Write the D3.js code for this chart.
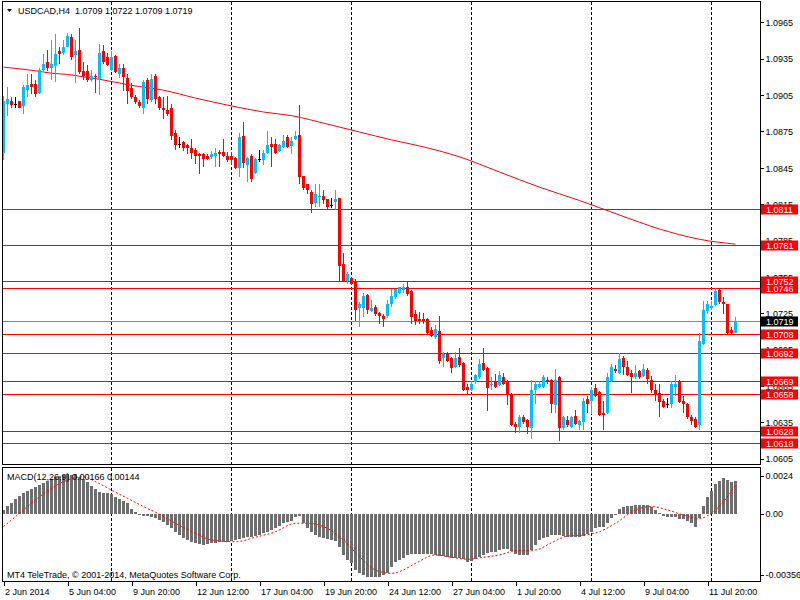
<!DOCTYPE html>
<html>
<head>
<meta charset="utf-8">
<script src="https://cdn.jsdelivr.net/npm/d3@7"></script>
<style>
  body { margin: 0; background: #fff; }
  svg { display: block; font-family: "Liberation Sans", Arial, sans-serif; font-size: 9px; }
</style>
</head>
<body>
<svg id="chart" width="800" height="600"></svg>
<script>
// USDCAD H4 bars (oldest first)
const opens = [
  1.0857,1.0898,1.0900,1.0898,1.0900,1.0896,1.0909,1.0914,1.0914,1.0907,
  1.0926,1.0932,1.0927,1.0929,1.0941,1.0940,1.0945,1.0953,1.0938,1.0942,
  1.0925,1.0925,1.0917,1.0921,1.0918,1.0941,1.0936,1.0926,1.0937,1.0922,
  1.0927,1.0919,1.0911,1.0903,1.0899,1.0894,1.0917,1.0901,1.0921,1.0903,
  1.0894,1.0893,1.0894,1.0874,1.0865,1.0866,1.0864,1.0861,1.0860,1.0856,
  1.0856,1.0855,1.0854,1.0855,1.0858,1.0858,1.0855,1.0855,1.0853,1.0845,
  1.0871,1.0847,1.0855,1.0841,1.0852,1.0851,1.0857,1.0865,1.0865,1.0859,
  1.0862,1.0870,1.0863,1.0869,1.0872,1.0838,1.0832,1.0825,1.0816,1.0821,
  1.0822,1.0819,1.0814,1.0817,1.0820,1.0766,1.0752,1.0754,1.0752,1.0729,
  1.0729,1.0740,1.0727,1.0730,1.0725,1.0723,1.0723,1.0733,1.0738,1.0742,
  1.0744,1.0747,1.0743,1.0724,1.0720,1.0720,1.0720,1.0711,1.0705,1.0710,
  1.0688,1.0692,1.0688,1.0681,1.0689,1.0684,1.0664,1.0662,1.0668,1.0672,
  1.0684,1.0680,1.0666,1.0669,1.0666,1.0672,1.0669,1.0658,1.0634,1.0631,
  1.0639,1.0637,1.0630,1.0662,1.0664,1.0664,1.0670,1.0670,1.0649,1.0672,
  1.0630,1.0637,1.0631,1.0640,1.0633,1.0635,1.0654,1.0653,1.0663,1.0660,
  1.0643,1.0643,1.0669,1.0679,1.0676,1.0688,1.0681,1.0676,1.0672,1.0677,
  1.0673,1.0678,1.0670,1.0662,1.0659,1.0653,1.0650,1.0650,1.0664,1.0669,
  1.0653,1.0650,1.0639,1.0638,1.0633,1.0700,1.0727,1.0729,1.0732,1.0744,
  1.0734,1.0733,1.0711,1.0709
];
const highs = [
  1.0904,1.0912,1.0903,1.0903,1.0900,1.0913,1.0922,1.0922,1.0917,1.0927,
  1.0939,1.0942,1.0950,1.0955,1.0945,1.0950,1.0956,1.0955,1.0950,1.0960,
  1.0932,1.0930,1.0926,1.0922,1.0947,1.0946,1.0940,1.0941,1.0938,1.0931,
  1.0931,1.0922,1.0915,1.0905,1.0901,1.0917,1.0919,1.0922,1.0922,1.0904,
  1.0903,1.0904,1.0898,1.0876,1.0870,1.0867,1.0865,1.0869,1.0861,1.0857,
  1.0857,1.0856,1.0859,1.0861,1.0860,1.0869,1.0858,1.0858,1.0854,1.0874,
  1.0883,1.0854,1.0856,1.0853,1.0860,1.0860,1.0875,1.0870,1.0869,1.0865,
  1.0872,1.0872,1.0870,1.0875,1.0897,1.0838,1.0832,1.0827,1.0832,1.0832,
  1.0827,1.0819,1.0820,1.0827,1.0820,1.0775,1.0759,1.0755,1.0753,1.0734,
  1.0742,1.0741,1.0736,1.0732,1.0726,1.0724,1.0736,1.0745,1.0745,1.0747,
  1.0749,1.0752,1.0744,1.0728,1.0726,1.0725,1.0721,1.0714,1.0715,1.0723,
  1.0693,1.0693,1.0689,1.0693,1.0696,1.0685,1.0667,1.0669,1.0675,1.0687,
  1.0696,1.0681,1.0672,1.0675,1.0677,1.0676,1.0670,1.0659,1.0635,1.0641,
  1.0641,1.0638,1.0670,1.0669,1.0669,1.0674,1.0672,1.0671,1.0679,1.0673,
  1.0640,1.0640,1.0640,1.0645,1.0637,1.0655,1.0657,1.0664,1.0667,1.0661,
  1.0653,1.0676,1.0683,1.0682,1.0692,1.0690,1.0686,1.0678,1.0682,1.0678,
  1.0683,1.0680,1.0673,1.0667,1.0667,1.0654,1.0655,1.0669,1.0674,1.0670,
  1.0657,1.0651,1.0641,1.0639,1.0709,1.0735,1.0735,1.0735,1.0746,1.0745,
  1.0738,1.0733,1.0714,1.0722
];
const lows = [
  1.0851,1.0888,1.0894,1.0894,1.0894,1.0889,1.0903,1.0906,1.0903,1.0906,
  1.0924,1.0925,1.0917,1.0916,1.0931,1.0938,1.0945,1.0934,1.0915,1.0922,
  1.0917,1.0916,1.0916,1.0907,1.0905,1.0931,1.0929,1.0925,1.0923,1.0919,
  1.0908,1.0898,1.0902,1.0898,1.0894,1.0889,1.0898,1.0899,1.0898,1.0893,
  1.0885,1.0888,1.0868,1.0860,1.0861,1.0859,1.0856,1.0852,1.0848,1.0840,
  1.0846,1.0851,1.0852,1.0846,1.0846,1.0854,1.0850,1.0847,1.0844,1.0837,
  1.0845,1.0833,1.0833,1.0840,1.0850,1.0847,1.0856,1.0846,1.0856,1.0858,
  1.0861,1.0861,1.0856,1.0868,1.0832,1.0827,1.0823,1.0808,1.0813,1.0813,
  1.0815,1.0811,1.0812,1.0810,1.0752,1.0751,1.0749,1.0748,1.0719,1.0714,
  1.0722,1.0724,1.0726,1.0723,1.0716,1.0714,1.0721,1.0730,1.0737,1.0741,
  1.0742,1.0739,1.0716,1.0715,1.0716,1.0716,1.0708,1.0705,1.0704,1.0683,
  1.0681,1.0685,1.0676,1.0680,1.0681,1.0661,1.0658,1.0661,1.0667,1.0671,
  1.0677,1.0644,1.0662,1.0663,1.0665,1.0666,1.0649,1.0632,1.0626,1.0626,
  1.0634,1.0625,1.0621,1.0650,1.0663,1.0663,1.0667,1.0643,1.0643,1.0620,
  1.0629,1.0631,1.0630,1.0633,1.0629,1.0629,1.0643,1.0642,1.0656,1.0640,
  1.0629,1.0642,1.0668,1.0676,1.0675,1.0674,1.0673,1.0659,1.0671,1.0671,
  1.0672,1.0667,1.0659,1.0653,1.0639,1.0647,1.0647,1.0647,1.0657,1.0651,
  1.0643,1.0638,1.0633,1.0630,1.0629,1.0699,1.0724,1.0728,1.0731,1.0733,
  1.0724,1.0708,1.0708,1.0709
];
const closes = [
  1.0900,1.0902,1.0897,1.0898,1.0894,1.0912,1.0913,1.0912,1.0906,1.0926,
  1.0931,1.0927,1.0931,1.0939,1.0939,1.0945,1.0954,1.0936,1.0941,1.0924,
  1.0921,1.0917,1.0921,1.0920,1.0940,1.0932,1.0930,1.0936,1.0924,1.0927,
  1.0920,1.0908,1.0903,1.0899,1.0896,1.0916,1.0902,1.0918,1.0902,1.0894,
  1.0893,1.0889,1.0871,1.0864,1.0865,1.0861,1.0861,1.0857,1.0855,1.0855,
  1.0852,1.0852,1.0856,1.0857,1.0856,1.0855,1.0851,1.0851,1.0845,1.0870,
  1.0849,1.0853,1.0836,1.0852,1.0852,1.0857,1.0864,1.0862,1.0857,1.0864,
  1.0867,1.0862,1.0867,1.0871,1.0837,1.0828,1.0827,1.0815,1.0823,1.0822,
  1.0818,1.0813,1.0814,1.0819,1.0764,1.0752,1.0757,1.0749,1.0728,1.0733,
  1.0739,1.0728,1.0729,1.0724,1.0723,1.0720,1.0733,1.0739,1.0745,1.0747,
  1.0747,1.0741,1.0722,1.0719,1.0719,1.0719,1.0709,1.0706,1.0712,1.0686,
  1.0691,1.0686,1.0680,1.0688,1.0682,1.0662,1.0662,1.0667,1.0674,1.0683,
  1.0678,1.0663,1.0667,1.0664,1.0674,1.0667,1.0658,1.0633,1.0631,1.0639,
  1.0635,1.0631,1.0662,1.0667,1.0667,1.0672,1.0668,1.0650,1.0670,1.0630,
  1.0639,1.0633,1.0639,1.0634,1.0636,1.0653,1.0650,1.0662,1.0657,1.0641,
  1.0641,1.0672,1.0681,1.0677,1.0687,1.0681,1.0674,1.0672,1.0676,1.0672,
  1.0679,1.0671,1.0662,1.0658,1.0652,1.0648,1.0650,1.0667,1.0667,1.0652,
  1.0650,1.0639,1.0636,1.0631,1.0702,1.0728,1.0733,1.0731,1.0743,1.0734,
  1.0733,1.0709,1.0709,1.0719
];

// moving average, sampled at bar indices
const maIdx = [0, 8, 12, 16, 20, 24, 32, 40, 48, 57, 65, 72, 81, 89, 97, 104, 114, 124, 134, 144, 154, 164, 174, 183];
const maVal = [1.0928, 1.0925, 1.0923, 1.0922, 1.0920, 1.0918, 1.0913, 1.0909, 1.09025, 1.0896, 1.0891, 1.0888,
  1.0881, 1.08745, 1.0868, 1.0863, 1.0854, 1.08415, 1.0829, 1.0818, 1.0806, 1.07945, 1.0786, 1.0782];

// MACD(12,26,9) main histogram, one value per bar
const macdHist = [
  0.00019,0.00041,0.00056,0.00075,0.00092,0.00107,0.00117,0.00126,0.00134,0.00146,
  0.00158,0.00166,0.00175,0.00185,0.00193,0.00197,0.00200,0.00197,0.00200,0.00188,
  0.00175,0.00161,0.00141,0.00124,0.00112,0.00107,0.00104,0.00100,0.00087,0.00075,
  0.00066,0.00053,0.00024,0.00010,-0.00007,-0.00010,-0.00012,-0.00015,-0.00024,-0.00032,
  -0.00042,-0.00058,-0.00075,-0.00092,-0.00109,-0.00126,-0.00134,-0.00143,-0.00151,-0.00154,
  -0.00158,-0.00154,-0.00151,-0.00148,-0.00146,-0.00143,-0.00144,-0.00141,-0.00134,-0.00129,
  -0.00124,-0.00120,-0.00117,-0.00114,-0.00107,-0.00100,-0.00092,-0.00083,-0.00075,-0.00063,
  -0.00049,-0.00042,-0.00036,-0.00019,-0.00012,-0.00049,-0.00075,-0.00092,-0.00109,-0.00120,
  -0.00126,-0.00131,-0.00134,-0.00137,-0.00168,-0.00210,-0.00236,-0.00253,-0.00287,-0.00304,
  -0.00312,-0.00321,-0.00321,-0.00321,-0.00321,-0.00312,-0.00304,-0.00270,-0.00244,-0.00236,
  -0.00227,-0.00210,-0.00207,-0.00207,-0.00207,-0.00207,-0.00207,-0.00207,-0.00210,-0.00214,
  -0.00216,-0.00222,-0.00227,-0.00227,-0.00227,-0.00232,-0.00244,-0.00239,-0.00232,-0.00222,
  -0.00210,-0.00202,-0.00197,-0.00195,-0.00185,-0.00178,-0.00178,-0.00190,-0.00205,-0.00210,
  -0.00210,-0.00210,-0.00185,-0.00160,-0.00134,-0.00126,-0.00120,-0.00110,-0.00109,-0.00109,
  -0.00114,-0.00117,-0.00120,-0.00120,-0.00120,-0.00114,-0.00104,-0.00092,-0.00075,-0.00066,
  -0.00066,-0.00046,-0.00024,-0.00003,0.00022,0.00036,0.00039,0.00041,0.00046,0.00046,
  0.00046,0.00046,0.00036,0.00019,0.00005,-0.00012,-0.00019,-0.00015,-0.00019,-0.00025,
  -0.00029,-0.00037,-0.00049,-0.00066,-0.00024,0.00039,0.00087,0.00117,0.00151,0.00168,
  0.00180,0.00171,0.00163,0.00166
];
// signal line, sampled at bar indices
const sigIdx = [0, 4, 8, 12, 16, 20, 23, 27, 31, 35, 39, 43, 48, 52, 58, 63, 68, 73, 76, 80, 85, 89, 93, 97,
  99, 103, 108, 112, 116, 120, 124, 128, 133, 137, 141, 145, 149, 153, 158, 162, 166, 170, 174, 177, 180, 183];
const sigVal = [-0.00066, 0.00002, 0.00070, 0.00129, 0.00171, 0.00188, 0.00163, 0.00120, 0.00078, 0.00036,
  -0.00003, -0.00049, -0.00100, -0.00134, -0.00143, -0.00120, -0.00092, -0.00049, -0.00049, -0.00066,
  -0.00134, -0.00219, -0.00287, -0.00304, -0.00295, -0.00253, -0.00210, -0.00222, -0.00232, -0.00222,
  -0.00210, -0.00188, -0.00185, -0.00148, -0.00114, -0.00109, -0.00092, -0.00049, 0.00019, 0.00036,
  0.00019, -0.00007, -0.00024, 0.00002, 0.00061, 0.00144];

const levels = [1.0618, 1.0628, 1.0658, 1.0669, 1.0692, 1.0708, 1.0746, 1.0752, 1.0781, 1.0811];
const bid = 1.0719;
const priceTicks = [1.0965, 1.0935, 1.0905, 1.0875, 1.0845, 1.0815, 1.0785, 1.0755, 1.0725, 1.0695, 1.0665, 1.0635, 1.0605];
const macdTicks = [0.0024, 0, -0.00356];
const macdTickLabels = ['0.0024', '0.00', '-0.00356'];
const dateIdx = [0, 16, 32, 48, 64, 80, 96, 112, 128, 144, 160, 176];
const dateLabels = ['2 Jun 2014', '5 Jun 04:00', '9 Jun 20:00', '12 Jun 12:00', '17 Jun 04:00', '19 Jun 20:00',
  '24 Jun 12:00', '27 Jun 04:00', '1 Jul 20:00', '4 Jul 12:00', '9 Jul 04:00', '11 Jul 20:00'];
const gridIdx = [27, 57, 87, 117, 147, 177];

const bullColor = '#00bfff';
const bearColor = '#ff0000';

const main = { left: 2.5, right: 760.5, top: 1.5, bottom: 464.5 };
const sub = { top: 467.5, bottom: 581.5 };

const svg = d3.select('#chart');

const x = d3.scaleLinear().domain([0, 1]).range([3.5, 7.5]);
const y = d3.scaleLinear().domain([1.0605, 1.0965]).range([458.7, 22.3]);
const ym = d3.scaleLinear().domain([-0.00356, 0.0024]).range([583.6, 466.5]);

const bars = opens.map((o, i) => ({ i, o, h: highs[i], l: lows[i], c: closes[i] }));

svg.append('clipPath').attr('id', 'clip-main')
  .append('rect').attr('x', main.left).attr('y', main.top)
  .attr('width', main.right - main.left).attr('height', main.bottom - main.top);
svg.append('clipPath').attr('id', 'clip-sub')
  .append('rect').attr('x', main.left).attr('y', sub.top)
  .attr('width', main.right - main.left).attr('height', sub.bottom - sub.top);

// vertical dashed grid in both panels
const grid = svg.append('g').attr('stroke', '#000').attr('stroke-dasharray', '3,2').attr('shape-rendering', 'crispEdges');
gridIdx.forEach((g) => {
  grid.append('line').attr('x1', x(g)).attr('x2', x(g)).attr('y1', main.top).attr('y2', main.bottom);
  grid.append('line').attr('x1', x(g)).attr('x2', x(g)).attr('y1', sub.top).attr('y2', sub.bottom);
});

const mainG = svg.append('g').attr('clip-path', 'url(#clip-main)');

// horizontal price levels
const levelG = mainG.append('g').attr('shape-rendering', 'crispEdges');
levelG.selectAll('line')
  .data(levels)
  .join('line')
  .attr('x1', main.left).attr('x2', main.right)
  .attr('y1', (d) => Math.round(y(d)) + 0.5).attr('y2', (d) => Math.round(y(d)) + 0.5)
  .attr('stroke', bearColor);

levelG.append('line')
  .attr('x1', main.left).attr('x2', main.right)
  .attr('y1', Math.round(y(bid)) + 0.5).attr('y2', Math.round(y(bid)) + 0.5)
  .attr('stroke', '#778899');

// moving average
mainG.append('path')
  .datum(maIdx.map((d, k) => [d, maVal[k]]))
  .attr('fill', 'none')
  .attr('stroke', bearColor)
  .attr('stroke-width', 1)
  .attr('d', d3.line().x((d) => x(d[0])).y((d) => y(d[1])).curve(d3.curveMonotoneX));

// candles
const candle = mainG.append('g').attr('shape-rendering', 'crispEdges')
  .selectAll('g')
  .data(bars)
  .join('g');

const colorOf = (d) => (d.c > d.o ? bullColor : d.c < d.o ? bearColor : '#000');

candle.append('line')
  .attr('x1', (d) => x(d.i)).attr('x2', (d) => x(d.i))
  .attr('y1', (d) => y(d.h)).attr('y2', (d) => y(d.l))
  .attr('stroke', colorOf);

candle.append('rect')
  .attr('x', (d) => x(d.i) - 1.5)
  .attr('width', 3)
  .attr('y', (d) => y(Math.max(d.o, d.c)))
  .attr('height', (d) => Math.max(1, Math.abs(y(d.o) - y(d.c))))
  .attr('fill', colorOf);

// MACD panel
const subG = svg.append('g').attr('clip-path', 'url(#clip-sub)');
subG.append('g').attr('shape-rendering', 'crispEdges')
  .selectAll('rect')
  .data(macdHist)
  .join('rect')
  .attr('x', (d, i) => x(i) - 1.5)
  .attr('width', 3)
  .attr('y', (d) => Math.min(ym(0), ym(d)))
  .attr('height', (d) => Math.max(1, Math.abs(ym(d) - ym(0))))
  .attr('fill', '#6e6e6e');

subG.append('path')
  .datum(sigIdx.map((d, k) => [d, sigVal[k]]))
  .attr('fill', 'none')
  .attr('stroke', bearColor)
  .attr('stroke-dasharray', '2,2')
  .attr('d', d3.line().x((d) => x(d[0])).y((d) => ym(d[1])).curve(d3.curveMonotoneX));

// frames
const frame = svg.append('g').attr('fill', 'none').attr('stroke', '#000').attr('shape-rendering', 'crispEdges');
frame.append('rect').attr('x', main.left).attr('y', main.top)
  .attr('width', main.right - main.left).attr('height', main.bottom - main.top);
frame.append('rect').attr('x', main.left).attr('y', sub.top)
  .attr('width', main.right - main.left).attr('height', sub.bottom - sub.top);

// right price axis
const yAxis = svg.append('g')
  .attr('transform', `translate(${main.right},0)`)
  .call(d3.axisRight(y).tickValues(priceTicks).tickSize(3).tickPadding(2).tickFormat(d3.format('.4f')));
yAxis.select('.domain').remove();
yAxis.attr('font-size', null).attr('font-family', null);
yAxis.selectAll('line').attr('shape-rendering', 'crispEdges');
yAxis.selectAll('text').attr('dy', '0.36em');

// level labels drawn over the axis text
const tags = svg.append('g');
levels.forEach((lv) => {
  const yy = Math.round(y(lv));
  tags.append('rect').attr('x', 761).attr('y', yy - 4.5).attr('width', 37).attr('height', 10).attr('fill', bearColor);
  tags.append('text').attr('x', 766).attr('y', yy + 3.8).attr('fill', '#fff').text(lv.toFixed(4));
});
{
  const yy = Math.round(y(bid));
  tags.append('rect').attr('x', 761).attr('y', yy - 4.5).attr('width', 37).attr('height', 10).attr('fill', '#000');
  tags.append('text').attr('x', 766).attr('y', yy + 3.8).attr('fill', '#fff').text(bid.toFixed(4));
}

// MACD axis
const mAxis = svg.append('g');
macdTicks.forEach((v, k) => {
  const yy = Math.min(Math.max(ym(v), sub.top + 8), sub.bottom - 7);
  mAxis.append('line').attr('x1', main.right).attr('x2', main.right + 3)
    .attr('y1', Math.round(yy) + 0.5).attr('y2', Math.round(yy) + 0.5)
    .attr('stroke', '#000').attr('shape-rendering', 'crispEdges');
  mAxis.append('text').attr('x', main.right + 5).attr('y', yy).attr('dy', '0.36em').text(macdTickLabels[k]);
});

// date axis
const xAxis = svg.append('g')
  .attr('transform', `translate(0,${sub.bottom})`)
  .call(d3.axisBottom(x).tickValues(dateIdx).tickSize(4).tickPadding(3).tickFormat((d, k) => dateLabels[k]));
xAxis.select('.domain').remove();
xAxis.attr('font-size', null).attr('font-family', null);
xAxis.selectAll('line').attr('shape-rendering', 'crispEdges');
xAxis.selectAll('text').attr('text-anchor', 'start').attr('x', 1);

// titles
svg.append('path').attr('d', 'M7,9 L12,9 L9.5,12 Z').attr('fill', '#000');
svg.append('text').attr('x', 18).attr('y', 13.5).style('white-space', 'pre')
  .text('USDCAD,H4  1.0709 1.0722 1.0709 1.0719');
svg.append('text').attr('x', 7).attr('y', 479.5).text('MACD(12,26,9) 0.00166 0.00144');
svg.append('text').attr('x', 7).attr('y', 578).text('MT4 TeleTrade, © 2001-2014, MetaQuotes Software Corp.');
</script>
</body>
</html>
